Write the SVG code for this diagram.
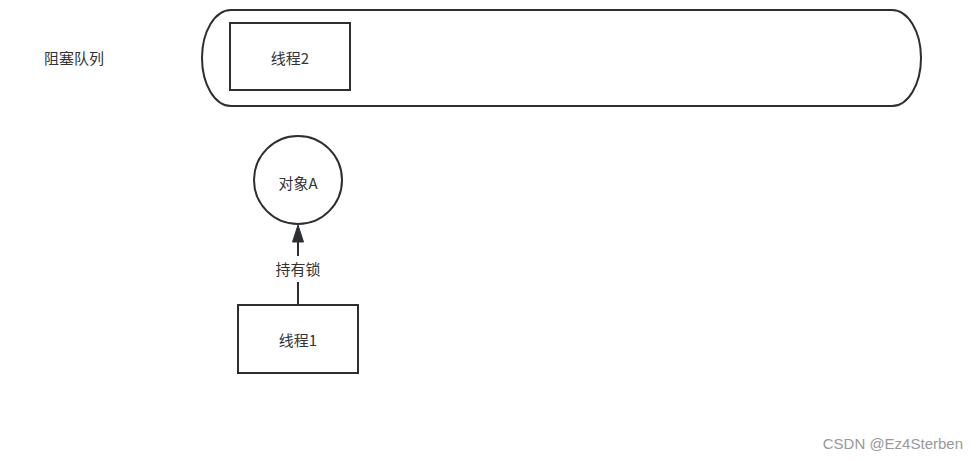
<svg xmlns="http://www.w3.org/2000/svg" width="978" height="461" viewBox="0 0 978 461">
<defs>
<style>
.sh{fill:#fff;stroke:#2b2f33;stroke-width:2}
.t{font-family:"Noto Sans CJK SC","Liberation Sans",sans-serif;font-size:15px;fill:#333;text-anchor:middle;dominant-baseline:central}
</style>
</defs>
<rect width="978" height="461" fill="#fff"/>
<g id="label-queue"><text class="t" x="74" y="57">阻塞队列</text></g>
<g id="queue"><rect class="sh" x="202" y="10" width="719" height="96" rx="29" ry="48"/></g>
<g id="thread2"><rect class="sh" x="230" y="23" width="120" height="67"/><text class="t" x="290" y="57">线程2</text></g>
<g id="objA"><circle class="sh" cx="298" cy="180" r="44"/><text class="t" x="298" y="182">对象A</text></g>
<g id="thread1"><rect class="sh" x="238" y="305" width="120" height="68"/><text class="t" x="298" y="339">线程1</text></g>
<g id="connectors">
<line x1="298" y1="305" x2="298" y2="282" stroke="#2b2f33" stroke-width="2"/>
<line x1="298" y1="256" x2="298" y2="240" stroke="#2b2f33" stroke-width="2"/>
<path d="M298,225 L303.5,242 L292.5,242 Z" fill="#2b2f33" stroke="#2b2f33" stroke-width="1"/>
<text class="t" x="298" y="268">持有锁</text>
</g>
<text x="963" y="443" font-family="Liberation Sans,sans-serif" font-size="15" fill="#999" text-anchor="end" dominant-baseline="central">CSDN @Ez4Sterben</text>
</svg>
